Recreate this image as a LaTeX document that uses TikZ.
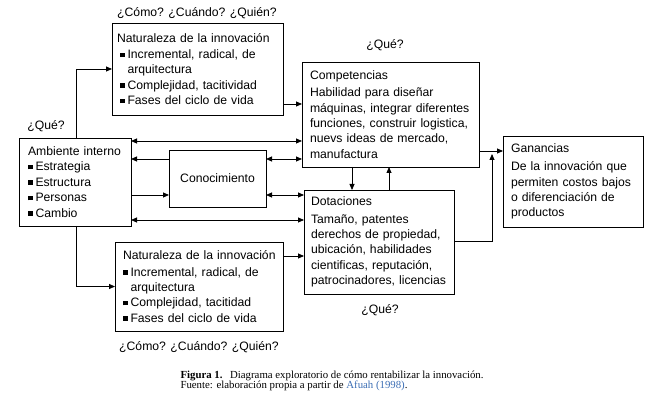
\documentclass[tikz,border=0pt]{standalone}
\usepackage{fontspec}
\setmainfont{Liberation Sans}
\newfontfamily\capfont{Liberation Serif}
\usetikzlibrary{arrows.meta}
\definecolor{linkblue}{RGB}{60,110,180}
\newcommand{\bul}{\rule[1.5pt]{4.5pt}{4.5pt}\hspace{3pt}}
\newcommand{\ind}{\hspace*{7.5pt}}
\tikzset{
  box/.style={draw, line width=0.8pt, anchor=north west, align=left,
    inner ysep=0pt, outer sep=0pt, font=\fontsize{12.2}{15.4}\selectfont},
  lbl/.style={font=\fontsize{12.2}{15.4}\selectfont},
  arr/.style={-{Triangle[length=6pt,width=5pt]}, line width=0.8pt},
  both/.style={{Triangle[length=6pt,width=5pt]}-{Triangle[length=6pt,width=5pt]}, line width=0.8pt}
}
\begin{document}
\begin{tikzpicture}[x=1pt,y=-1pt]
    \useasboundingbox (0,0) rectangle (655,403);
    % Left: internal environment and knowledge
    \node[box, inner xsep=9pt, text width=94pt, minimum height=88pt] (amb) at (19,138)
      {Ambiente interno\\ \bul Estrategia\\ \bul Estructura\\ \bul Personas\\ \bul Cambio};
    \node[lbl] (queamb) at (46,126) {¿Qué?};
    \node[box, align=center, minimum width=97pt, minimum height=57pt] (con) at (169,150) {Conocimiento};
    \coordinate (spine) at (76,0);
    % Top and bottom: nature of the innovation
    \node[box, inner xsep=5pt, text width=161pt, minimum height=92pt] (natup) at (112,23)
      {Naturaleza de la innovación\\[1pt] \hspace*{3pt}\bul Incremental, radical, de\\ \hspace*{3pt}\ind arquitectura\\
       \hspace*{3pt}\bul Complejidad, tacitividad\\ \hspace*{3pt}\bul Fases del ciclo de vida};
    \node[lbl] (quienup) at (197,13) {¿Cómo? ¿Cuándo? ¿Quién?};
    \node[box, inner xsep=8pt, text width=152pt, minimum height=89pt] (natlo) at (115,242)
      {\mbox{Naturaleza de la innovación}\\[1pt] \bul Incremental, radical, de\\ \ind arquitectura\\
       \bul Complejidad, tacitidad\\ \bul Fases del ciclo de vida};
    \node[lbl] (quienlo) at (199,347) {¿Cómo? ¿Cuándo? ¿Quién?};
    % Middle: competences and endowments
    \node[box, inner xsep=8pt, text width=161pt, minimum height=105pt] (comp) at (302,62)
      {Competencias\\[2pt] Habilidad para diseñar\\ máquinas, integrar diferentes\\
       funciones, construir logistica,\\ nuevs ideas de mercado,\\ manufactura};
    \node[lbl] (quecomp) at (385,45) {¿Qué?};
    \node[box, inner xsep=7pt, text width=136pt, minimum height=104pt] (dot) at (304,190)
      {Dotaciones\\[2pt] Tamaño, patentes\\ derechos de propiedad,\\ ubicación, habilidades\\
       cientificas, reputación,\\ patrocinadores, licencias};
    \node[lbl] (quedot) at (380,310) {¿Qué?};
    % Right: profits
    \node[box, inner xsep=8pt, text width=124pt, minimum height=91pt] (gan) at (503,136)
      {Ganancias\\[3pt] De la innovación que\\ permiten costos bajos\\ o diferenciación de\\ productos};
    \coordinate (join) at (492,154);
    % Arrows
    \draw[arr] (amb.north -| spine) |- (natup.west);
    \draw[arr] (amb.south -| spine) |- (natlo.west);
    \draw[arr] (natup.east |- 0,104) -- (comp.west |- 0,104);
    \draw[arr] (natlo.east |- 0,256) -- (dot.west |- 0,256);
    \draw[both] (amb.east |- 0,141) -- (comp.west |- 0,141);
    \draw[arr] (con.west |- 0,159) -- (amb.east |- 0,159);
    \draw[both] (con.east |- 0,159) -- (comp.west |- 0,159);
    \draw[arr] (amb.east |- 0,195) -- (con.west |- 0,195);
    \draw[both] (con.east |- 0,195) -- (dot.west |- 0,195);
    \draw[both] (amb.east |- 0,220) -- (dot.west |- 0,220);
    \draw[arr] (comp.south -| 352,0) -- (dot.north -| 352,0);
    \draw[arr] (dot.north -| 389,0) -- (comp.south -| 389,0);
    \draw[arr] (comp.east |- 0,151) -- (gan.west |- 0,151);
    \draw[arr] (dot.east |- 0,241) -| (join);
    % Caption
    \node[anchor=north west, align=left, font=\capfont\fontsize{10.8}{10.5}\selectfont] (caption) at (177,367)
      {\textbf{Figura 1.}\hspace{4pt} Diagrama exploratorio de cómo rentabilizar la innovación.\\
       Fuente: elaboración propia a partir de \textcolor{linkblue}{Afuah (1998)}.};
\end{tikzpicture}
\end{document}
